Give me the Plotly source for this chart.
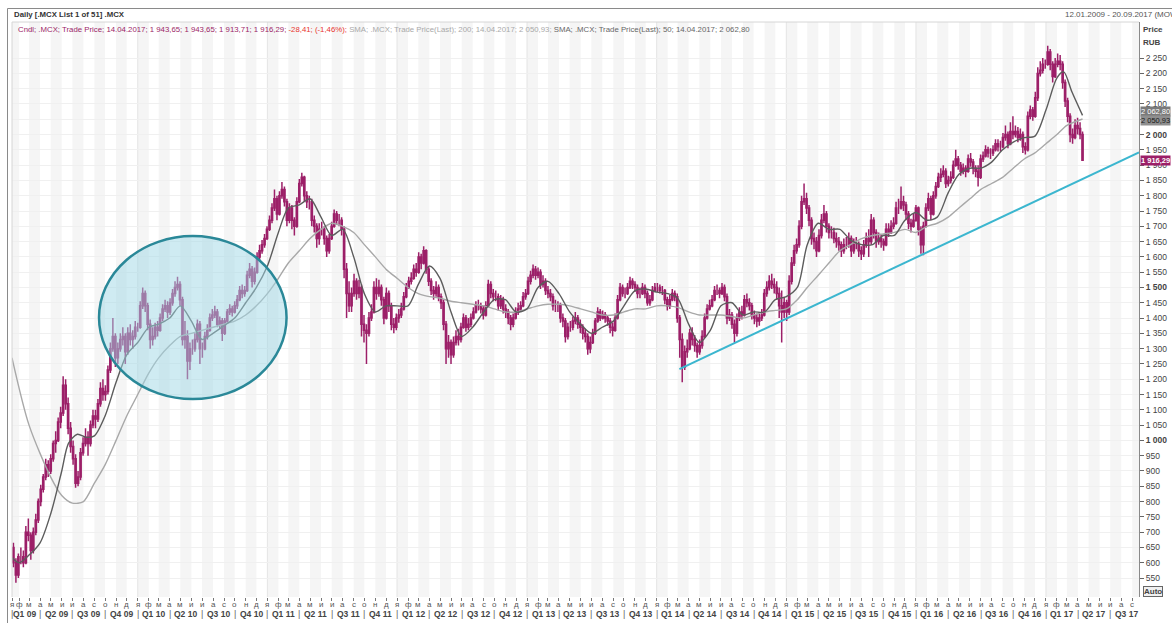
import pandas as pd
import plotly.graph_objects as go

RANGE_START = "2009-01-12"
RANGE_END = "2017-09-20"
MAG = "#9c1f68"
FONT = "Liberation Sans, Arial, sans-serif"

# ---------------- weekly candles (week ending Friday) --------------
FIRST_OPEN = 650
close = [
    # 2009
    600, 560, 620, 620, 600, 700, 690, 640, 700, 740, 800, 840, 880, 920, 900,
    940, 990, 1000, 1060, 1090, 1180, 1120, 1040, 980, 940, 860, 880, 960, 990,
    1010, 990, 1050, 1080, 1070, 1120, 1170, 1150, 1160, 1230, 1300, 1340, 1270,
    1300, 1330, 1340, 1290, 1350, 1330, 1340, 1370,
    # 2010
    1370, 1440, 1480, 1440, 1380, 1330, 1340, 1370, 1360, 1400, 1430, 1440, 1420,
    1450, 1480, 1500, 1510, 1460, 1330, 1340, 1260, 1300, 1300, 1330, 1380, 1300,
    1300, 1340, 1360, 1400, 1410, 1420, 1380, 1390, 1350, 1390, 1420, 1430, 1420,
    1440, 1460, 1490, 1480, 1490, 1540, 1560, 1520, 1550, 1600, 1620, 1640, 1660, 1690,
    # 2011
    1720, 1760, 1790, 1740, 1800, 1820, 1780, 1720, 1760, 1720, 1700, 1780,
    1840, 1860, 1800, 1780, 1780, 1720, 1700, 1660, 1690, 1690, 1660, 1620, 1660,
    1700, 1740, 1720, 1720, 1690, 1560, 1480, 1440, 1480, 1520, 1480, 1500, 1380, 1360,
    1350, 1400, 1420, 1500, 1480, 1500, 1460, 1400, 1480, 1440, 1380, 1370, 1400,
    # 2012
    1410, 1430, 1470, 1500, 1520, 1530, 1560, 1550, 1600, 1580, 1620, 1560, 1520,
    1490, 1480, 1500, 1470, 1450, 1380, 1300, 1320, 1280, 1320, 1340, 1330, 1370,
    1400, 1370, 1380, 1400, 1420, 1440, 1440, 1430, 1410, 1440, 1510, 1480, 1470,
    1470, 1440, 1460, 1430, 1420, 1400, 1380, 1400, 1420, 1430, 1440, 1470, 1480,
    # 2013
    1520, 1540, 1560, 1540, 1550, 1510, 1520, 1490, 1480, 1470, 1440, 1440, 1440,
    1400, 1390, 1340, 1370, 1370, 1390, 1400, 1380, 1370, 1350, 1340, 1300, 1320,
    1350, 1390, 1420, 1400, 1410, 1400, 1390, 1370, 1360, 1400, 1460, 1500, 1480,
    1480, 1500, 1520, 1510, 1500, 1480, 1480, 1500, 1480, 1450, 1460, 1490, 1500,
    # 2014
    1500, 1490, 1490, 1460, 1440, 1460, 1480, 1470, 1400, 1330, 1240, 1290, 1300,
    1350, 1330, 1310, 1290, 1310, 1340, 1400, 1430, 1440, 1460, 1490, 1490, 1480,
    1500, 1470, 1400, 1410, 1380, 1350, 1400, 1420, 1410, 1460, 1450, 1440, 1410,
    1400, 1390, 1400, 1410, 1480, 1500, 1520, 1510, 1500, 1480, 1440, 1420, 1450,
    # 2015
    1420, 1520, 1580, 1620, 1640, 1700, 1780, 1790, 1760, 1720, 1660, 1650, 1620,
    1670, 1720, 1740, 1700, 1680, 1680, 1660, 1650, 1640, 1620, 1640, 1640, 1660,
    1620, 1640, 1640, 1620, 1610, 1640, 1660, 1650, 1720, 1680, 1650, 1660, 1650,
    1640, 1690, 1680, 1700, 1710, 1760, 1760, 1780, 1770, 1740, 1710, 1700, 1720,
    # 2016
    1760, 1690, 1640, 1700, 1760, 1790, 1740, 1800, 1830, 1860, 1870, 1880, 1840,
    1850, 1860, 1900, 1920, 1900, 1880, 1890, 1880, 1920, 1910, 1890, 1880, 1860,
    1920, 1930, 1950, 1940, 1940, 1950, 1970, 1960, 1960, 1990, 2000, 1970, 2010, 2000,
    2010, 1990, 2000, 1960, 1950, 2060, 2080, 2060, 2120, 2200, 2210, 2230, 2230,
    # 2017
    2270, 2230, 2190, 2230, 2240, 2230, 2170, 2110, 2060, 2000, 1990, 2030, 2020,
    2000, 1916.29,
]
high = [
    # 2009
    665, 615, 630, 650, 640, 720, 745, 700, 715, 760, 810, 855, 890, 940, 935,
    955, 1000, 1030, 1075, 1110, 1210, 1200, 1140, 1060, 1000, 955, 900, 975, 1010,
    1040, 1030, 1065, 1100, 1100, 1135, 1190, 1200, 1180, 1245, 1320, 1400, 1350,
    1320, 1350, 1370, 1350, 1370, 1380, 1360, 1390,
    # 2010
    1385, 1455, 1500, 1490, 1450, 1395, 1370, 1385, 1390, 1415, 1445, 1460, 1455,
    1465, 1495, 1520, 1535, 1520, 1470, 1390, 1360, 1320, 1330, 1350, 1395, 1390,
    1320, 1355, 1380, 1415, 1430, 1440, 1430, 1405, 1400, 1400, 1430, 1445, 1440,
    1455, 1475, 1505, 1510, 1505, 1555, 1580, 1570, 1565, 1615, 1640, 1655, 1675, 1700,
    # 2011
    1735, 1775, 1820, 1800, 1815, 1845, 1830, 1790, 1775, 1770, 1730, 1795,
    1855, 1875, 1865, 1815, 1800, 1790, 1735, 1710, 1710, 1715, 1700, 1670, 1675,
    1715, 1755, 1750, 1740, 1730, 1700, 1580, 1520, 1500, 1545, 1530, 1525, 1510, 1410,
    1380, 1420, 1445, 1520, 1530, 1525, 1510, 1470, 1500, 1490, 1450, 1400, 1415,
    # 2012
    1430, 1450, 1485, 1515, 1535, 1550, 1575, 1580, 1615, 1610, 1635, 1625, 1570,
    1530, 1505, 1520, 1510, 1480, 1460, 1390, 1345, 1330, 1340, 1360, 1365, 1385,
    1415, 1410, 1400, 1415, 1435, 1455, 1460, 1450, 1440, 1455, 1525, 1520, 1495,
    1490, 1480, 1475, 1470, 1445, 1430, 1410, 1415, 1435, 1450, 1455, 1485, 1495,
    # 2013
    1535, 1555, 1575, 1570, 1565, 1560, 1540, 1530, 1505, 1495, 1480, 1460, 1455,
    1450, 1415, 1400, 1385, 1390, 1405, 1420, 1410, 1395, 1380, 1365, 1350, 1340,
    1365, 1400, 1435, 1430, 1425, 1420, 1410, 1400, 1385, 1415, 1475, 1515, 1510,
    1500, 1515, 1535, 1530, 1520, 1510, 1500, 1515, 1510, 1490, 1475, 1505, 1515,
    # 2014
    1515, 1510, 1505, 1495, 1470, 1475, 1495, 1490, 1480, 1410, 1350, 1310, 1330,
    1365, 1370, 1345, 1320, 1330, 1360, 1415, 1445, 1460, 1475, 1505, 1510, 1500,
    1515, 1510, 1480, 1430, 1420, 1395, 1415, 1435, 1440, 1475, 1480, 1465, 1450,
    1425, 1415, 1420, 1430, 1495, 1520, 1540, 1545, 1530, 1520, 1500, 1490, 1470,
    # 2015
    1460, 1540, 1600, 1640, 1660, 1720, 1800, 1840, 1810, 1770, 1730, 1680, 1665,
    1690, 1740, 1770, 1750, 1710, 1700, 1695, 1680, 1665, 1650, 1660, 1665, 1680,
    1670, 1660, 1665, 1650, 1635, 1655, 1680, 1690, 1740, 1730, 1690, 1680, 1675,
    1660, 1710, 1710, 1720, 1730, 1780, 1790, 1830, 1800, 1780, 1750, 1725, 1740,
    # 2016
    1770, 1765, 1700, 1715, 1775, 1810, 1800, 1815, 1845, 1875, 1890, 1900, 1890,
    1865, 1880, 1915, 1950, 1930, 1910, 1905, 1900, 1935, 1940, 1920, 1900, 1900,
    1935, 1945, 1965, 1960, 1955, 1965, 1985, 1985, 1980, 2005, 2030, 2010, 2040, 2060,
    2030, 2025, 2020, 2010, 1975, 2075, 2095, 2090, 2140, 2220, 2240, 2250, 2245,
    # 2017
    2290, 2280, 2240, 2250, 2265, 2260, 2240, 2180, 2120, 2070, 2020, 2050, 2055,
    2040, 2010,
]
low = [
    # 2009
    585, 535, 550, 595, 585, 595, 670, 610, 630, 690, 730, 785, 830, 870, 880,
    890, 930, 960, 995, 1040, 1080, 1100, 1020, 960, 920, 845, 850, 870, 950,
    980, 950, 980, 1040, 1040, 1060, 1110, 1130, 1130, 1150, 1220, 1290, 1240,
    1250, 1290, 1310, 1250, 1280, 1310, 1300, 1330,
    # 2010
    1355, 1365, 1430, 1420, 1360, 1300, 1310, 1330, 1340, 1355, 1390, 1420, 1400,
    1410, 1440, 1470, 1490, 1440, 1310, 1300, 1200, 1230, 1280, 1290, 1320, 1250,
    1270, 1295, 1330, 1355, 1390, 1400, 1370, 1365, 1325, 1345, 1385, 1410, 1405,
    1415, 1430, 1455, 1465, 1470, 1485, 1530, 1500, 1510, 1545, 1590, 1610, 1630, 1655,
    # 2011
    1685, 1710, 1750, 1720, 1735, 1790, 1765, 1700, 1710, 1690, 1670, 1695,
    1775, 1830, 1780, 1760, 1755, 1700, 1680, 1630, 1640, 1670, 1640, 1600, 1610,
    1655, 1695, 1705, 1700, 1670, 1530, 1400, 1420, 1420, 1470, 1460, 1465, 1340, 1320,
    1250, 1340, 1390, 1415, 1460, 1470, 1440, 1380, 1395, 1420, 1360, 1350, 1360,
    # 2012
    1385, 1400, 1425, 1465, 1495, 1510, 1525, 1535, 1545, 1560, 1575, 1545, 1505,
    1475, 1460, 1470, 1455, 1430, 1360, 1250, 1270, 1250, 1270, 1310, 1310, 1320,
    1365, 1355, 1360, 1370, 1395, 1415, 1425, 1415, 1395, 1405, 1435, 1465, 1455,
    1455, 1425, 1430, 1415, 1400, 1380, 1360, 1370, 1395, 1410, 1420, 1435, 1460,
    # 2013
    1475, 1510, 1530, 1525, 1530, 1495, 1500, 1475, 1465, 1455, 1425, 1420, 1420,
    1385, 1370, 1320, 1330, 1355, 1360, 1380, 1365, 1350, 1330, 1320, 1280, 1285,
    1315, 1345, 1385, 1390, 1395, 1385, 1375, 1350, 1340, 1355, 1395, 1455, 1470,
    1465, 1475, 1495, 1495, 1485, 1465, 1465, 1475, 1465, 1440, 1440, 1455, 1485,
    # 2014
    1485, 1480, 1475, 1445, 1425, 1430, 1455, 1455, 1385, 1270, 1190, 1230, 1270,
    1295, 1310, 1290, 1270, 1280, 1300, 1335, 1395, 1425, 1435, 1455, 1475, 1465,
    1475, 1455, 1380, 1390, 1365, 1320, 1340, 1390, 1395, 1405, 1435, 1425, 1395,
    1380, 1370, 1375, 1390, 1405, 1470, 1490, 1495, 1480, 1460, 1400, 1320, 1400,
    # 2015
    1390, 1410, 1510, 1570, 1610, 1630, 1690, 1770, 1740, 1700, 1640, 1625, 1600,
    1615, 1660, 1710, 1680, 1660, 1660, 1645, 1630, 1620, 1600, 1610, 1625, 1630,
    1600, 1610, 1625, 1600, 1590, 1600, 1630, 1600, 1640, 1660, 1630, 1640, 1630,
    1620, 1635, 1665, 1675, 1690, 1705, 1740, 1755, 1750, 1720, 1690, 1680, 1695,
    # 2016
    1715, 1670, 1610, 1605, 1695, 1750, 1720, 1735, 1790, 1825, 1845, 1860, 1825,
    1830, 1840, 1855, 1895, 1885, 1865, 1870, 1860, 1875, 1895, 1870, 1860, 1830,
    1855, 1910, 1925, 1925, 1920, 1930, 1945, 1945, 1945, 1955, 1980, 1955, 1965, 1985,
    1990, 1975, 1980, 1940, 1935, 1945, 2050, 2045, 2055, 2110, 2190, 2200, 2215,
    # 2017
    2225, 2210, 2170, 2185, 2220, 2210, 2150, 2090, 2040, 1975, 1970, 1985, 2000,
    1985, 1913.71,
]

# ---------------- moving averages ----------------
sma50_dates = [
    "2009-01-12", "2009-02-01", "2009-03-01", "2009-04-01", "2009-05-01", "2009-06-01",
    "2009-06-20", "2009-07-15", "2009-08-10", "2009-09-01", "2009-10-01", "2009-11-01",
    "2009-12-01", "2010-01-01", "2010-02-01", "2010-03-01", "2010-04-01", "2010-05-01",
    "2010-06-01", "2010-07-01", "2010-08-01", "2010-09-01", "2010-10-01", "2010-11-01",
    "2010-12-01", "2011-01-01", "2011-02-01", "2011-03-01", "2011-04-01", "2011-05-01",
    "2011-06-01", "2011-07-01", "2011-08-01", "2011-09-01", "2011-10-01", "2011-11-01",
    "2011-12-01", "2012-01-01", "2012-02-01", "2012-03-01", "2012-04-01", "2012-05-01",
    "2012-06-01", "2012-07-01", "2012-08-01", "2012-09-01", "2012-10-01", "2012-11-01",
    "2012-12-01", "2013-01-01", "2013-02-01", "2013-03-01", "2013-04-01", "2013-05-01",
    "2013-06-01", "2013-07-01", "2013-08-01", "2013-09-01", "2013-10-01", "2013-11-01",
    "2013-12-01", "2014-01-01", "2014-02-01", "2014-03-01", "2014-04-01", "2014-05-01",
    "2014-06-01", "2014-07-01", "2014-08-01", "2014-09-01", "2014-10-01", "2014-11-01",
    "2014-12-01", "2015-01-01", "2015-02-01", "2015-03-01", "2015-04-01", "2015-05-01",
    "2015-06-01", "2015-07-01", "2015-08-01", "2015-09-01", "2015-10-01", "2015-11-01",
    "2015-12-01", "2016-01-01", "2016-02-01", "2016-03-01", "2016-04-01", "2016-05-01",
    "2016-06-01", "2016-07-01", "2016-08-01", "2016-09-01", "2016-10-01", "2016-11-01",
    "2016-12-01", "2017-01-01", "2017-02-01", "2017-02-20", "2017-03-15", "2017-04-14",
]
sma50_values = [
    616, 600, 625, 665, 760, 900, 990, 1020, 1010, 1015, 1080, 1190,
    1280, 1320, 1370, 1380, 1400, 1440, 1390, 1330, 1350, 1375, 1400, 1450,
    1500, 1570, 1680, 1760, 1770, 1790, 1730, 1670, 1690, 1600, 1480, 1420,
    1440, 1440, 1440, 1510, 1570, 1530, 1420, 1340, 1370, 1420, 1460, 1460,
    1420, 1430, 1500, 1520, 1480, 1420, 1380, 1350, 1370, 1390, 1440, 1490,
    1495, 1485, 1480, 1465, 1380, 1320, 1360, 1440, 1450, 1410, 1420, 1420,
    1460, 1470, 1500, 1640, 1710, 1690, 1690, 1655, 1640, 1640, 1670, 1670,
    1720, 1745, 1720, 1730, 1810, 1870, 1890, 1890, 1910, 1950, 1975, 1990,
    1995, 2080, 2185, 2205, 2140, 2062.80,
]
sma200_dates = [
    "2009-01-12", "2009-03-01", "2009-05-01", "2009-06-01", "2009-07-01", "2009-08-01",
    "2009-09-01", "2009-10-01", "2009-11-01", "2009-12-01", "2010-01-01", "2010-02-01",
    "2010-03-01", "2010-04-01", "2010-05-01", "2010-06-01", "2010-07-01", "2010-08-01",
    "2010-09-01", "2010-10-01", "2010-11-01", "2010-12-01", "2011-01-01", "2011-02-01",
    "2011-03-01", "2011-04-01", "2011-05-01", "2011-06-01", "2011-07-01", "2011-08-01",
    "2011-09-01", "2011-10-01", "2011-11-01", "2011-12-01", "2012-01-01", "2012-02-01",
    "2012-03-01", "2012-04-01", "2012-05-01", "2012-06-01", "2012-07-01", "2012-08-01",
    "2012-09-01", "2012-10-01", "2012-11-01", "2012-12-01", "2013-01-01", "2013-02-01",
    "2013-03-01", "2013-04-01", "2013-05-01", "2013-06-01", "2013-07-01", "2013-08-01",
    "2013-09-01", "2013-10-01", "2013-11-01", "2013-12-01", "2014-01-01", "2014-02-01",
    "2014-03-01", "2014-04-01", "2014-05-01", "2014-06-01", "2014-07-01", "2014-08-01",
    "2014-09-01", "2014-10-01", "2014-11-01", "2014-12-01", "2015-01-01", "2015-02-01",
    "2015-03-01", "2015-04-01", "2015-05-01", "2015-06-01", "2015-07-01", "2015-08-01",
    "2015-09-01", "2015-10-01", "2015-11-01", "2015-12-01", "2016-01-01", "2016-02-01",
    "2016-03-01", "2016-04-01", "2016-05-01", "2016-06-01", "2016-07-01", "2016-08-01",
    "2016-09-01", "2016-10-01", "2016-11-01", "2016-12-01", "2017-01-01", "2017-02-01",
    "2017-03-01", "2017-04-14",
]
sma200_values = [
    1270, 1050, 880, 820, 795, 800, 860, 920, 1000, 1080, 1150, 1220,
    1270, 1310, 1340, 1350, 1360, 1370, 1380, 1390, 1410, 1440, 1480, 1530,
    1580, 1620, 1660, 1690, 1710, 1700, 1680, 1640, 1600, 1560, 1530, 1500,
    1480, 1470, 1465, 1455, 1450, 1445, 1440, 1430, 1420, 1420, 1430, 1440,
    1445, 1445, 1440, 1430, 1420, 1410, 1410, 1420, 1430, 1430, 1440, 1440,
    1435, 1420, 1410, 1410, 1410, 1405, 1400, 1410, 1420, 1425, 1430, 1460,
    1500, 1540, 1580, 1620, 1640, 1660, 1670, 1675, 1680, 1690, 1680, 1700,
    1710, 1730, 1760, 1790, 1820, 1840, 1860, 1890, 1920, 1940, 1970, 2000,
    2030, 2050.93,
]

# support trend line (two anchor points) and highlighted zone
trend_dates = ["2014-03-06", "2017-09-20"]
trend_prices = [1233, 1942]
zone_dates = ["2009-09-14", "2011-02-24"]
zone_prices = [1135, 1668]

MONTH_LETTERS = ["я", "ф", "м", "а", "м", "и", "и", "а", "с", "о", "н", "д"]
Y_TICKS = list(range(550, 2251, 50))
BOLD_TICKS = [1000, 1500, 2000]

# ---------------------------------------------------------------------------------------
W, H = 1172, 623
ML, MR, MT, MB = 12, 33, 22, 26
PW, PH = W - ML - MR, H - MT - MB
FRAME_X, FRAME_Y = 7.5, 8.5      # outer window frame (px)

n = min(len(close), len(high), len(low))
close, high, low = close[:n], high[:n], low[:n]
week_dates = pd.date_range("2009-01-16", periods=n, freq="W-FRI")
open_ = [FIRST_OPEN] + close[:-1]

fig = go.Figure()

fig.add_trace(go.Scatter(
    x=sma200_dates, y=sma200_values, mode="lines",
    line=dict(color="#a8a8a8", width=1.4, shape="spline", smoothing=0.8),
    hoverinfo="skip", showlegend=False))
fig.add_trace(go.Scatter(
    x=sma50_dates, y=sma50_values, mode="lines",
    line=dict(color="#5c5c5c", width=1.4, shape="spline", smoothing=0.8),
    hoverinfo="skip", showlegend=False))
fig.add_trace(go.Candlestick(
    x=week_dates, open=open_, high=high, low=low, close=close,
    increasing=dict(line=dict(color=MAG, width=1.5), fillcolor=MAG),
    decreasing=dict(line=dict(color=MAG, width=1.5), fillcolor=MAG),
    hoverinfo="skip", showlegend=False))
fig.add_trace(go.Scatter(
    x=trend_dates, y=trend_prices, mode="lines",
    line=dict(color="#3bb6cf", width=2), hoverinfo="skip", showlegend=False))

shapes = []
rs, re_ = pd.Timestamp(RANGE_START), pd.Timestamp(RANGE_END)
months = pd.date_range("2009-01-01", "2017-09-01", freq="MS")
for m in months:
    if m.month % 2 == 1:
        x0 = max(m, rs)
        x1 = min(m + pd.offsets.MonthBegin(1), re_)
        shapes.append(dict(type="rect", xref="x", yref="paper",
                           x0=x0.strftime("%Y-%m-%d"), x1=x1.strftime("%Y-%m-%d"),
                           y0=0, y1=1, fillcolor="#f5f5f5", line_width=0, layer="below"))
for yr in range(2010, 2018):
    d = f"{yr}-01-01"
    shapes.append(dict(type="line", xref="x", yref="paper", x0=d, x1=d, y0=0, y1=1,
                       line=dict(color="#e4e4e4", width=1), layer="below"))

# highlighted ellipse
shapes.append(dict(type="circle", xref="x", yref="y",
                   x0=zone_dates[0], x1=zone_dates[1], y0=zone_prices[0], y1=zone_prices[1],
                   fillcolor="rgba(160,216,230,0.5)", line=dict(color="#2a8898", width=2.5),
                   layer="above"))

# window frame
fx0 = -(ML - FRAME_X) / PW
fy1 = (PH + MT - FRAME_Y) / PH
shapes += [
    dict(type="line", xref="paper", yref="paper", x0=fx0, x1=1 + MR / PW, y0=fy1, y1=fy1,
         line=dict(color="#8a8a8a", width=1)),
    dict(type="line", xref="paper", yref="paper", x0=fx0, x1=fx0, y0=fy1, y1=-MB / PH,
         line=dict(color="#8a8a8a", width=1)),
    dict(type="line", xref="paper", yref="paper", x0=0, x1=1, y0=1, y1=1,
         line=dict(color="#d6d6d6", width=1)),
    dict(type="line", xref="paper", yref="paper", x0=0, x1=0, y0=0, y1=1,
         line=dict(color="#d6d6d6", width=1)),
]

ann = []
ann.append(dict(xref="paper", yref="paper", x=0, y=1, xanchor="left", yanchor="bottom",
                xshift=0, yshift=1, showarrow=False,
                text="<b>Daily [.MCX List 1 of 51] .MCX</b>",
                font=dict(size=7.8, color="#333333", family=FONT)))
ann.append(dict(xref="paper", yref="paper", x=0.933, y=1, xanchor="left", yanchor="bottom",
                yshift=1, showarrow=False, text="12.01.2009 - 20.09.2017 (MOW)",
                font=dict(size=8, color="#555555", family=FONT)))
legend_txt = (
    f'<span style="color:{MAG}">Cndl; .MCX; Trade Price; 14.04.2017; 1 943,65; 1 943,65; '
    '1 913,71; 1 916,29; </span>'
    '<span style="color:#e8352f">-28,41; (-1,46%);</span>'
    '<span style="color:#a9a9a9"> SMA; .MCX; Trade Price(Last); 200; 14.04.2017; 2 050,93;</span>'
    '<span style="color:#666666"> SMA; .MCX; Trade Price(Last); 50; 14.04.2017; 2 062,80</span>'
)
ann.append(dict(xref="paper", yref="paper", x=0, y=1, xanchor="left", yanchor="top",
                xshift=4, yshift=-1, showarrow=False, text=legend_txt,
                font=dict(size=7.8, family=FONT)))
ann.append(dict(xref="paper", yref="paper", x=1, y=1, xanchor="left", yanchor="top",
                xshift=2, yshift=-1, showarrow=False, text="<b>Price</b>",
                font=dict(size=8, color="#444444", family=FONT)))
ann.append(dict(xref="paper", yref="paper", x=1, y=1, xanchor="left", yanchor="top",
                xshift=2, yshift=-14, showarrow=False, text="<b>RUB</b>",
                font=dict(size=8, color="#444444", family=FONT)))

# last value badges
badges = [(sma50_values[-1], "#7a7a7a", "#ffffff", 4),
          (sma200_values[-1], "#8f8f8f", "#1a1a1a", -2),
          (close[-1], MAG, "#ffffff", 0)]
for val, bg, fc, ys in badges:
    txt = f"{val:,.2f}".replace(",", " ").replace(".", ",")
    if val == close[-1]:
        txt = f"<b>{txt}</b>"
    ann.append(dict(xref="paper", yref="y", x=1, y=val, xanchor="left", yanchor="middle",
                    xshift=1, yshift=ys, showarrow=False, text=txt, bgcolor=bg,
                    borderpad=0, font=dict(size=7.5, color=fc, family=FONT)))

ann.append(dict(xref="paper", yref="paper", x=1, y=0, xanchor="left", yanchor="bottom",
                xshift=4, yshift=0, showarrow=False, text="<b>Auto</b>",
                bordercolor="#666666", borderwidth=1, borderpad=0, bgcolor="#f0f0f0",
                font=dict(size=8, color="#444444", family=FONT)))

# month initials under the ticks
for i, m in enumerate(months):
    pos = rs if i == 0 else m
    ann.append(dict(xref="x", yref="paper", x=pos.strftime("%Y-%m-%d"), y=0,
                    xanchor="center", yanchor="top", yshift=-2, showarrow=False,
                    text=MONTH_LETTERS[m.month - 1], borderpad=0,
                    font=dict(size=8, color="#555555", family=FONT)))

# quarter labels under the month letters
for yr in range(2009, 2018):
    for q in range(4):
        qs = pd.Timestamp(year=yr, month=3 * q + 1, day=1)
        if qs > re_:
            continue
        qe = qs + pd.offsets.QuarterBegin(1, startingMonth=1)
        mid = qs + (qe - qs) / 2
        sep = max(qs, rs)
        ann.append(dict(xref="x", yref="paper", x=sep.strftime("%Y-%m-%d"), y=0,
                        xanchor="center", yanchor="top", yshift=-11, showarrow=False,
                        text="|", borderpad=0, font=dict(size=9, color="#666666", family=FONT)))
        ann.append(dict(xref="x", yref="paper", x=mid.strftime("%Y-%m-%d"), y=0,
                        xanchor="center", yanchor="top", yshift=-11, showarrow=False,
                        text=f"<b>Q{q + 1} {yr % 100:02d}</b>", borderpad=0,
                        font=dict(size=8.5, color="#444444", family=FONT)))

tickvals = [RANGE_START] + [m.strftime("%Y-%m-%d") for m in months[1:]]

ytext = []
for v in Y_TICKS:
    s = f"{v:,}".replace(",", " ")
    ytext.append(f"<b>{s}</b>" if v in BOLD_TICKS else s)

fig.update_layout(
    width=W, height=H, autosize=False,
    margin=dict(l=ML, r=MR, t=MT, b=MB),
    paper_bgcolor="white", plot_bgcolor="white",
    font=dict(family=FONT, size=8.5, color="#444444"),
    showlegend=False, hovermode=False,
    shapes=shapes, annotations=ann,
    xaxis=dict(type="date", range=[RANGE_START, RANGE_END], rangeslider=dict(visible=False),
               tickmode="array", tickvals=tickvals, showticklabels=False,
               ticks="outside", ticklen=3, tickcolor="#777777",
               showgrid=False, showline=False, zeroline=False, fixedrange=True),
    yaxis=dict(side="right", range=[488, 2368], tickmode="array", tickvals=Y_TICKS,
               ticktext=ytext, ticks="outside", ticklen=4, tickcolor="#666666",
               tickfont=dict(size=8.5, color="#444444", family=FONT),
               showline=True, linecolor="#8a8a8a", linewidth=1, automargin=False,
               showgrid=True, gridcolor="#f0f0f0", zeroline=False, fixedrange=True),
)

# the page itself gets no margin or scrollbars, so the figure fills the window exactly
fig.write_html(
    "out.html",
    config={"responsive": False, "displayModeBar": False, "staticPlot": True},
    post_script="document.body.style.margin='0';document.body.style.overflow='hidden';",
)
